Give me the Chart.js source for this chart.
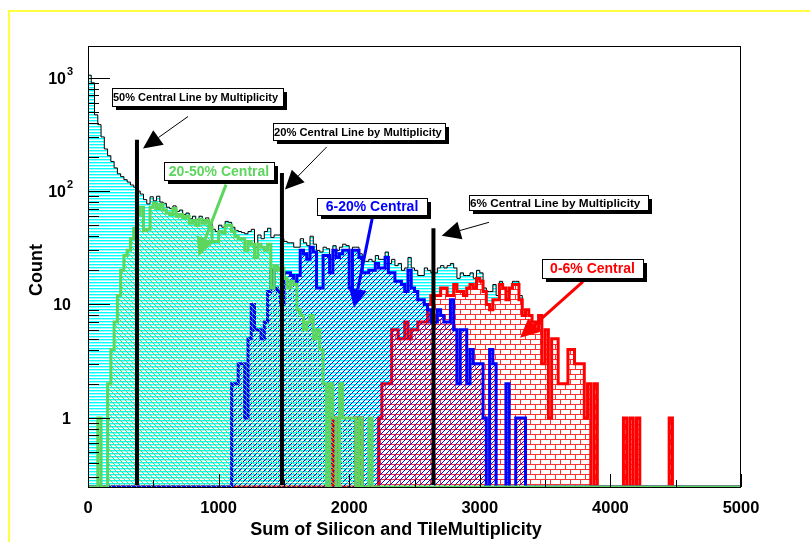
<!DOCTYPE html>
<html>
<head>
<meta charset="utf-8">
<title>Multiplicity centrality classes</title>
<script src="https://cdn.jsdelivr.net/npm/chart.js@4.4.1/dist/chart.umd.min.js"></script>
<style>
  html, body { margin: 0; padding: 0; background: #fff; }
  #wrap { width: 810px; height: 542px; }
  canvas { display: block; }
</style>
</head>
<body>
<div id="wrap"><canvas id="chart" width="810" height="542"></canvas></div>
<script>
// Histogram binning: 25 units per bin over 0..5000
const BIN_WIDTH = 25;
const X_MIN = 0, X_MAX = 5000;
const Y_MIN = 0.246, Y_MAX = 1900;

// All events (counts per bin, starting at bin 0)
const totalCounts = [
  1050, 900, 470, 385, 300, 235, 205, 182, 160, 142,
  134, 126, 120, 113, 108, 100, 94, 84, 77, 89,
  82, 90, 80, 78, 72, 70, 74, 66, 68, 62,
  64, 57, 60, 56, 60, 55, 58, 52, 46, 44,
  50, 48, 54, 53, 48, 45, 44, 43, 42, 44,
  46, 32, 41, 38, 44, 47, 39, 41, 41, 38,
  36, 35, 35, 32, 32, 38, 35, 33, 40, 34,
  30, 29, 32, 31, 25, 33, 30, 32, 34, 33,
  24, 32, 32, 28, 24, 24, 25, 24, 27, 25,
  25, 29, 23, 25, 22, 23, 20, 21, 26, 21,
  20, 18, 18, 21, 20, 19, 19, 21, 22, 21,
  22, 23, 21, 17, 19, 18, 18, 19, 17, 20,
  19, 14, 13, 13, 15, 12, 16, 14, 13, 14,
  16, 16, 12, 9, 9, 8, 7, 6, 8, 3,
  6, 1, 5, 5, 2, 2, 2, 4, 4, 3,
  3, 3, 1, 2, 0, 2, 0, 0, 0, 0,
  0, 0, 0, 0, 1, 0, 1, 0, 1, 0,
  0, 0, 0, 0, 0, 0, 0, 0, 1
];

// 20-50% central class
const central20to50 = [
  0, 0, 0, 1, 0, 0, 2, 4, 7, 12,
  20, 27, 30, 38, 47, 62, 72, 45, 46, 72,
  78, 70, 76, 68, 64, 62, 70, 60, 62, 58,
  60, 52, 55, 50, 56, 52, 55, 48, 36, 36,
  44, 43, 50, 50, 44, 40, 38, 38, 30, 36,
  34, 26, 34, 32, 30, 34, 14, 22, 20, 21,
  17, 14, 16, 15, 9, 8, 6, 7, 8, 5,
  6, 4, 2, 0, 2, 1, 0, 2, 1, 1,
  1, 1, 0, 1, 0, 0, 1
];

// 6-20% central class
const central6to20 = [
  0, 0, 0, 0, 0, 0, 0, 0, 0, 0,
  0, 0, 0, 0, 0, 0, 0, 0, 0, 0,
  0, 0, 0, 0, 0, 0, 0, 0, 0, 0,
  0, 0, 0, 0, 0, 0, 0, 0, 0, 0,
  0, 0, 0, 0, 2, 2, 3, 3, 1, 5,
  10, 6, 6, 5, 7, 13, 20, 14, 13, 10,
  19, 19, 18, 16, 18, 30, 28, 25, 32, 29,
  14, 14, 27, 27, 19, 30, 26, 28, 30, 30,
  14, 30, 30, 26, 19, 19, 20, 20, 23, 21,
  21, 26, 19, 19, 16, 16, 15, 13, 20, 14,
  13, 11, 11, 10, 9, 7, 7, 9, 8, 7,
  7, 11, 6, 2, 6, 6, 2, 4, 3, 3,
  3, 1, 0, 4, 3, 0, 0, 0, 2, 0,
  0, 1, 1, 1
];

// 0-6% central class
const central0to6 = [
  0, 0, 0, 0, 0, 0, 0, 0, 0, 0,
  0, 0, 0, 0, 0, 0, 0, 0, 0, 0,
  0, 0, 0, 0, 0, 0, 0, 0, 0, 0,
  0, 0, 0, 0, 0, 0, 0, 0, 0, 0,
  0, 0, 0, 0, 0, 0, 0, 0, 0, 0,
  0, 0, 0, 0, 0, 0, 0, 0, 0, 0,
  0, 0, 0, 0, 0, 0, 0, 0, 0, 0,
  0, 0, 0, 0, 0, 1, 0, 0, 0, 0,
  0, 0, 1, 1, 0, 0, 0, 0, 0, 1,
  2, 2, 2, 6, 6, 5, 5, 7, 5, 6,
  6, 7, 7, 7, 10, 12, 12, 12, 14, 14,
  12, 12, 15, 13, 13, 12, 14, 15, 14, 17,
  16, 13, 10, 9, 11, 11, 15, 14, 11, 14,
  15, 15, 11, 8, 9, 8, 7, 6, 8, 3,
  6, 1, 5, 5, 2, 2, 2, 4, 4, 3,
  3, 3, 1, 2, 0, 2, 0, 0, 0, 0,
  0, 0, 0, 0, 1, 0, 1, 0, 1, 0,
  0, 0, 0, 0, 0, 0, 0, 0, 1
];

// Centrality cut positions and the heights the marker lines are drawn to
const cutPositions = [375, 1485, 2645];
const cutHeights = [284, 144, 47];
const CUT_BASE = 0.256;

// Axis ticks
const xTickValues = [0, 1000, 2000, 3000, 4000, 5000];
const xTickLabels = ['0', '1000', '2000', '3000', '4000', '5000'];
const xMinorTicks = [500, 1500, 2500, 3500, 4500];
const yTickValues = [1, 10, 100, 1000];
const yTickBase = ['1', '10', '10', '10'];
const yTickExp = ['', '', '2', '3'];

const GREEN = '#5cd65c';
const BLUE = '#0000ff';
const RED = '#ff0000';

// Boxed notes and arrows, placed in data coordinates
const notes = [
  { x1: 184, y1: 561, x2: 1493, y2: 809, text: '50% Central Line by Multiplicity', color: '#000', size: 11, align: 'left' },
  { x1: 1414, y1: 284, x2: 2734, y2: 402, text: '20% Central Line by Multiplicity', color: '#000', size: 11.2, align: 'left' },
  { x1: 2917, y1: 67.8, x2: 4288, y2: 92.9, text: '6% Central Line by Multiplicity', color: '#000', size: 11.8, align: 'left' },
  { x1: 582, y1: 125, x2: 1424, y2: 180, text: '20-50% Central', color: GREEN, size: 14, align: 'center' },
  { x1: 1753, y1: 62, x2: 2596, y2: 87.5, text: '6-20% Central', color: BLUE, size: 14, align: 'center' },
  { x1: 3476, y1: 17.2, x2: 4250, y2: 25.3, text: '0-6% Central', color: RED, size: 14, align: 'center' }
];
const arrows = [
  { from: [766, 454], to: [421, 237], color: '#000', width: 1 },
  { from: [1828, 245], to: [1508, 103], color: '#000', width: 1 },
  { from: [3070, 53], to: [2708, 40.4], color: '#000', width: 1 },
  { from: [1057, 114], to: [845, 26.5], color: GREEN, width: 3 },
  { from: [2182, 62], to: [2037, 9.35], color: BLUE, width: 3 },
  { from: [3790, 15.9], to: [3308, 5.08], color: RED, width: 3 }
];

const canvas = document.getElementById('chart');
const mainCtx = canvas.getContext('2d');

function makePattern(w, h, paint) {
  const c = document.createElement('canvas');
  c.width = w; c.height = h;
  const g = c.getContext('2d');
  paint(g, w, h);
  return mainCtx.createPattern(c, 'repeat');
}

// horizontal cyan hatching
const cyanHatch = makePattern(1, 3, (g) => {
  g.fillStyle = '#00ffff'; g.fillRect(0, 0, 1, 1);
  g.fillStyle = '#9ffcff'; g.fillRect(0, 1, 1, 1);
});
// "\\\" hatching
const greenHatch = makePattern(5, 5, (g, w) => {
  g.fillStyle = GREEN;
  for (let i = 0; i < w; i++) g.fillRect(i, i, 1, 1);
});
// "///" hatching
const blueHatch = makePattern(5, 5, (g, w) => {
  g.fillStyle = BLUE;
  for (let i = 0; i < w; i++) g.fillRect(i, w - 1 - i, 1, 1);
});
// brick pattern on white
const redBrick = makePattern(10, 10, (g) => {
  g.fillStyle = '#ffffff'; g.fillRect(0, 0, 10, 10);
  g.fillStyle = '#ff3030';
  g.fillRect(0, 4, 10, 1); g.fillRect(0, 9, 10, 1);
  g.fillRect(0, 0, 1, 4); g.fillRect(5, 5, 1, 4);
});

function histPoints(counts) {
  const nBins = Math.round((X_MAX - X_MIN) / BIN_WIDTH);
  const pts = [];
  for (let i = 0; i < nBins; i++) {
    const v = i < counts.length ? counts[i] : 0;
    // empty bins sit on the lower edge of the log axis
    pts.push({ x: X_MIN + i * BIN_WIDTH, y: v > 0 ? v : Y_MIN });
  }
  pts.push({ x: X_MAX, y: pts[pts.length - 1].y });
  return pts;
}

function histDataset(label, counts, line, width, fillStyle, order) {
  return {
    label, data: histPoints(counts), order,
    stepped: true, fill: 'start',
    borderColor: line, borderWidth: width, backgroundColor: fillStyle,
    borderJoinStyle: 'miter', borderCapStyle: 'butt',
    pointRadius: 0, pointHoverRadius: 0, tension: 0
  };
}

const cutDatasets = cutPositions.map((x, i) => ({
  label: 'cut' + i,
  data: [{ x, y: CUT_BASE }, { x, y: cutHeights[i] }],
  order: -1, fill: false, borderColor: '#000', borderWidth: 4,
  borderCapStyle: 'butt', pointRadius: 0, pointHoverRadius: 0
}));

function drawArrow(ctx, x1, y1, x2, y2, color, width) {
  const dx = x2 - x1, dy = y2 - y1;
  const len = Math.hypot(dx, dy);
  const ux = dx / len, uy = dy / len;
  const head = 19, half = 9;
  const bx = x2 - ux * head, by = y2 - uy * head;
  ctx.save();
  ctx.strokeStyle = color; ctx.fillStyle = color; ctx.lineWidth = width;
  ctx.beginPath(); ctx.moveTo(x1, y1); ctx.lineTo(bx, by); ctx.stroke();
  ctx.beginPath();
  ctx.moveTo(x2, y2);
  ctx.lineTo(bx - uy * half, by + ux * half);
  ctx.lineTo(bx + uy * half, by - ux * half);
  ctx.closePath(); ctx.fill();
  ctx.restore();
}

const rootFrame = {
  id: 'rootFrame',
  beforeDraw(chart) {
    const { ctx, width, height } = chart;
    ctx.save();
    ctx.fillStyle = '#fff';
    ctx.fillRect(0, 0, width, height);
    ctx.strokeStyle = '#ffff40';
    ctx.lineWidth = 2;
    ctx.beginPath();
    ctx.moveTo(9, height); ctx.lineTo(9, 11); ctx.lineTo(width, 11);
    ctx.stroke();
    ctx.restore();
  },
  afterDatasetsDraw(chart) {
    const { ctx, chartArea: a, scales } = chart;
    const xs = scales.x, ys = scales.y;
    ctx.save();
    ctx.strokeStyle = '#000';
    ctx.lineWidth = 1;
    ctx.strokeRect(a.left + 0.5, a.top + 0.5, a.right - a.left - 1, a.bottom - a.top);
    ctx.beginPath();
    // x ticks, pointing up into the frame
    xTickValues.forEach(v => {
      const px = Math.round(xs.getPixelForValue(v)) + 0.5;
      ctx.moveTo(px, a.bottom); ctx.lineTo(px, a.bottom - 13);
    });
    xMinorTicks.forEach(v => {
      const px = Math.round(xs.getPixelForValue(v)) + 0.5;
      ctx.moveTo(px, a.bottom); ctx.lineTo(px, a.bottom - 7);
    });
    // y ticks on the log axis, pointing right
    for (let d = 0.1; d <= 1000; d *= 10) {
      for (let k = 1; k <= 9; k++) {
        const v = k * d;
        if (v < Y_MIN || v > Y_MAX) continue;
        const py = Math.round(ys.getPixelForValue(v)) + 0.5;
        ctx.moveTo(a.left, py); ctx.lineTo(a.left + (k === 1 ? 22 : 11), py);
      }
    }
    ctx.stroke();

    // tick labels
    ctx.fillStyle = '#000';
    ctx.textBaseline = 'alphabetic';
    ctx.font = 'bold 16.5px "Liberation Sans", Arial, sans-serif';
    ctx.textAlign = 'center';
    xTickValues.forEach((v, i) => {
      ctx.fillText(xTickLabels[i], xs.getPixelForValue(v), a.bottom + 26);
    });
    yTickValues.forEach((v, i) => {
      const py = ys.getPixelForValue(v);
      ctx.font = 'bold 16px "Liberation Sans", Arial, sans-serif';
      if (yTickExp[i]) {
        ctx.textAlign = 'right';
        ctx.fillText(yTickBase[i], 66, py + 6);
        ctx.font = 'bold 11px "Liberation Sans", Arial, sans-serif';
        ctx.textAlign = 'left';
        ctx.fillText(yTickExp[i], 67, py - 3);
      } else {
        ctx.textAlign = 'right';
        ctx.fillText(yTickBase[i], 71, py + 6);
      }
    });

    // axis titles
    ctx.font = 'bold 18px "Liberation Sans", Arial, sans-serif';
    ctx.textAlign = 'center';
    ctx.fillText('Sum of Silicon and TileMultiplicity', 396, 535);
    ctx.save();
    ctx.translate(42, 270);
    ctx.rotate(-Math.PI / 2);
    ctx.fillText('Count', 0, 0);
    ctx.restore();
    ctx.restore();
  },
  afterDraw(chart) {
    const { ctx, scales } = chart;
    const xs = scales.x, ys = scales.y;
    arrows.forEach(ar => {
      drawArrow(ctx,
        xs.getPixelForValue(ar.from[0]), ys.getPixelForValue(ar.from[1]),
        xs.getPixelForValue(ar.to[0]), ys.getPixelForValue(ar.to[1]),
        ar.color, ar.width);
    });
    notes.forEach(n => {
      const l = Math.round(xs.getPixelForValue(n.x1));
      const r = Math.round(xs.getPixelForValue(n.x2));
      const t = Math.round(ys.getPixelForValue(n.y2));
      const b = Math.round(ys.getPixelForValue(n.y1));
      const w = r - l, h = b - t;
      ctx.save();
      ctx.fillStyle = '#000';
      ctx.fillRect(l + 4, t + 4, w, h);
      ctx.fillStyle = '#fff';
      ctx.fillRect(l, t, w, h);
      ctx.strokeStyle = '#000';
      ctx.lineWidth = 1;
      ctx.strokeRect(l + 0.5, t + 0.5, w, h);
      ctx.fillStyle = n.color;
      ctx.font = 'bold ' + n.size + 'px "Liberation Sans", Arial, sans-serif';
      ctx.textBaseline = 'middle';
      if (n.align === 'left') {
        ctx.textAlign = 'left';
        ctx.fillText(n.text, l + 1, t + h / 2 + 1);
      } else {
        ctx.textAlign = 'center';
        ctx.fillText(n.text, l + w / 2, t + h / 2 + 1);
      }
      ctx.restore();
    });
  }
};

new Chart(mainCtx, {
  type: 'line',
  data: {
    datasets: [
      histDataset('20-50% Central', central20to50, GREEN, 3, greenHatch, 0),
      histDataset('6-20% Central', central6to20, BLUE, 3, blueHatch, 1),
      histDataset('0-6% Central', central0to6, RED, 3, redBrick, 2),
      histDataset('All events', totalCounts, '#000', 1, cyanHatch, 3),
      ...cutDatasets
    ]
  },
  options: {
    responsive: false,
    animation: false,
    devicePixelRatio: 1,
    events: [],
    layout: { padding: { left: 88, right: 69, top: 46, bottom: 55 } },
    scales: {
      x: { type: 'linear', min: X_MIN, max: X_MAX, display: false },
      y: { type: 'logarithmic', min: Y_MIN, max: Y_MAX, display: false }
    },
    plugins: { legend: { display: false }, tooltip: { enabled: false } }
  },
  plugins: [rootFrame]
});
</script>
</body>
</html>
